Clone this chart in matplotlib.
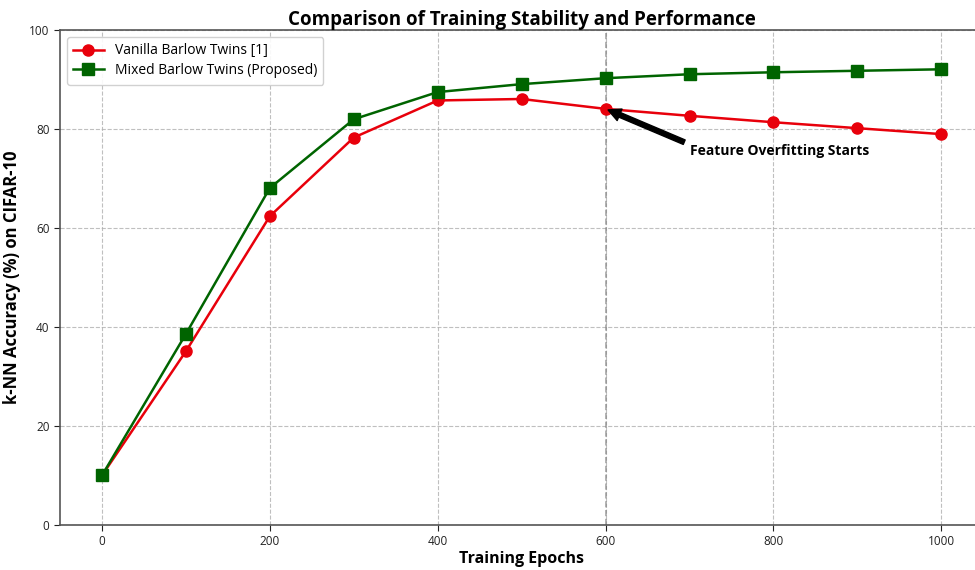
import matplotlib
matplotlib.use("Agg")
import matplotlib.pyplot as plt

plt.rcParams['font.family'] = ['Open Sans', 'DejaVu Sans']

epochs = [0, 100, 200, 300, 400, 500, 600, 700, 800, 900, 1000]
vanilla = [10.0, 35.1, 62.4, 78.3, 85.8, 86.1, 84.1, 82.7, 81.4, 80.2, 79.0]
mixed = [10.0, 38.6, 68.1, 82.0, 87.5, 89.1, 90.3, 91.1, 91.5, 91.8, 92.1]

fig = plt.figure(figsize=(9.75, 5.7), dpi=100)
ax = fig.add_axes([0.0615, 0.079, 0.947, 0.868])

ax.plot(epochs, vanilla, color='#e8000b', marker='o', markersize=8, linewidth=1.8,
        label='Vanilla Barlow Twins [1]', zorder=3)
ax.plot(epochs, mixed, color='#006400', marker='s', markersize=8, linewidth=1.8,
        label='Mixed Barlow Twins (Proposed)', zorder=3)

ax.axvline(600, color='gray', linestyle='--', linewidth=1.2, alpha=0.7, zorder=1)

ax.annotate('Feature Overfitting Starts', xy=(600, 84.1), xytext=(700, 75.5),
            fontsize=10, fontweight='bold', va='center', ha='left',
            arrowprops=dict(facecolor='black', edgecolor='black', width=3.5,
                            headwidth=9, headlength=9, shrink=0.03))

ax.set_xlim(-50, 1050)
ax.set_ylim(0, 100)
ax.set_xticks([0, 200, 400, 600, 800, 1000])
ax.set_yticks([0, 20, 40, 60, 80, 100])
ax.tick_params(labelsize=8.5, colors='#222222', length=4)
ax.grid(True, linestyle='--', color='#b0b0b0', linewidth=0.8, alpha=0.8)
ax.set_axisbelow(True)

for side in ['left', 'bottom', 'top']:
    ax.spines[side].set_color('#555555')
    ax.spines[side].set_linewidth(1.2)
ax.spines['right'].set_visible(False)

ax.set_xlabel('Training Epochs', fontsize=11.5, fontweight='bold', labelpad=2)
ax.set_ylabel('k-NN Accuracy (%) on CIFAR-10', fontsize=12, fontweight='bold', labelpad=6)
ax.set_title('Comparison of Training Stability and Performance', fontsize=13.5,
             fontweight='bold', pad=4)

ax.legend(loc='upper left', fontsize=10, frameon=True, framealpha=0.9,
          edgecolor='#cccccc', borderpad=0.45, handlelength=2.2, labelspacing=0.35)

fig.savefig('out.png', dpi=100)
